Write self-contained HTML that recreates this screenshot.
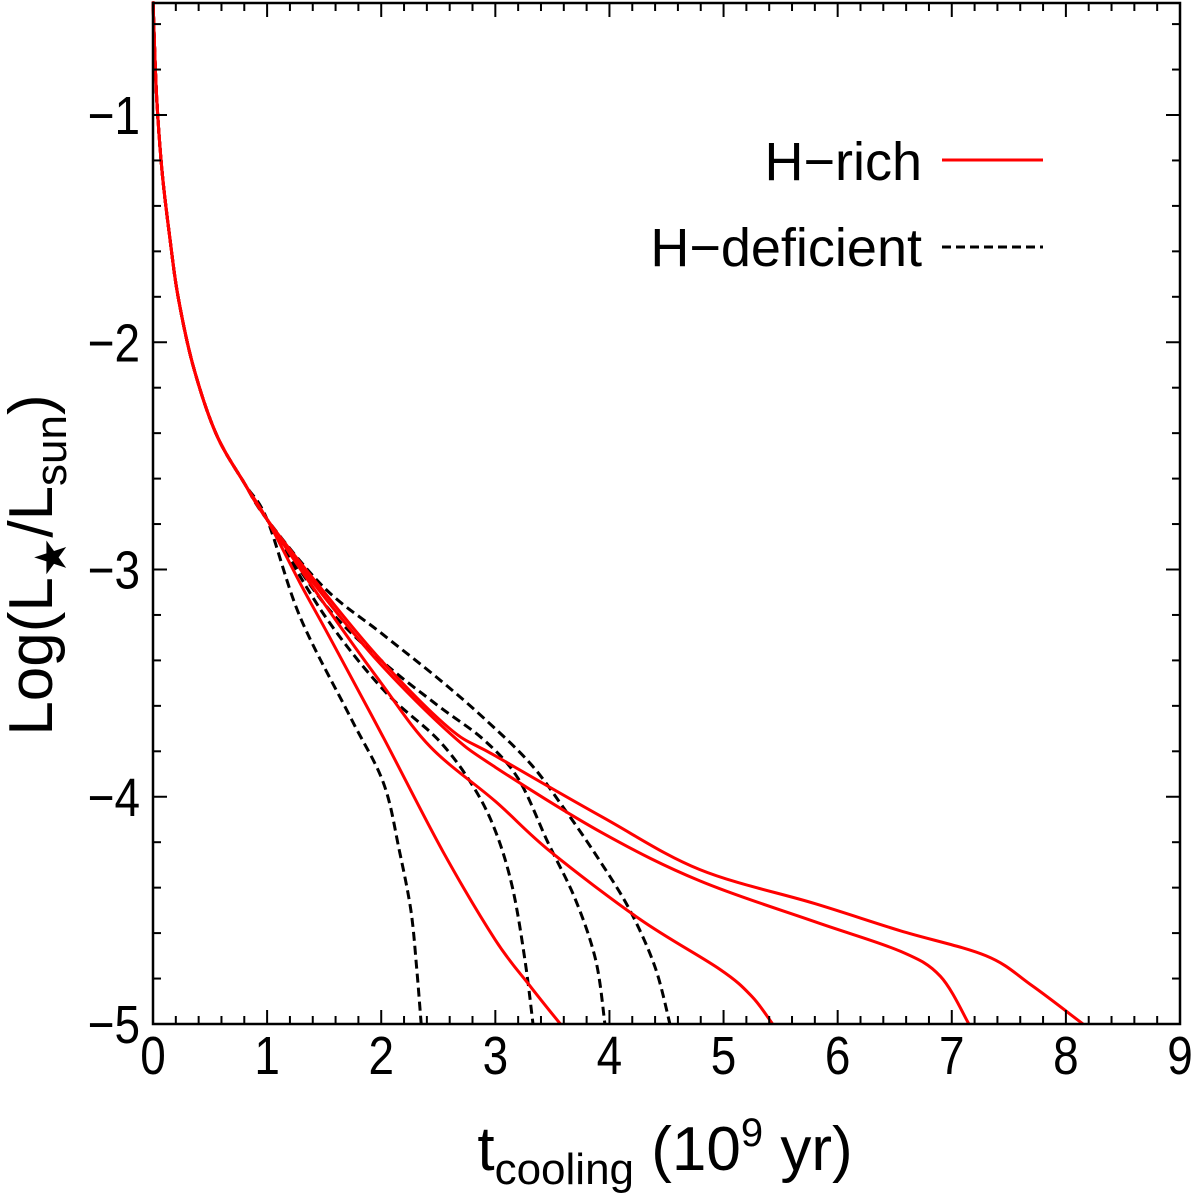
<!DOCTYPE html>
<html><head><meta charset="utf-8"><style>
html,body{margin:0;padding:0;background:#fff;}
svg{display:block;font-family:"Liberation Sans",sans-serif;}
</style></head><body>
<svg id="chart" width="1200" height="1200" viewBox="0 0 1200 1200">
<g id="marks"></g>
<rect x="153" y="3" width="1027" height="1021" fill="none" stroke="#000" stroke-width="2.5"/>
<g id="ticks"></g>
<g>
<text x="922" y="180" font-size="54" text-anchor="end">H−rich</text>
<line x1="942" y1="160" x2="1043" y2="160" stroke="#f00" stroke-width="3"/>
<text x="922" y="266" font-size="54" text-anchor="end">H−deficient</text>
<line x1="942" y1="247" x2="1043" y2="247" stroke="#000" stroke-width="3" stroke-dasharray="9,5"/>
</g>
<text x="665" y="1170" font-size="62" text-anchor="middle">t<tspan font-size="44" dy="14">cooling</tspan><tspan dy="-14"> (10</tspan><tspan font-size="40" dy="-24">9</tspan><tspan dy="24"> yr)</tspan></text>
<text transform="translate(52,565) rotate(-90)" font-size="62" text-anchor="middle">Log(L<tspan font-size="44" dy="14">★</tspan><tspan dy="-14">/L</tspan><tspan font-size="44" dy="14">sun</tspan><tspan dy="-14">)</tspan></text>
</svg>
<script>
const xTicks=[0,1,2,3,4,5,6,7,8,9];
const yTicks=[-1,-2,-3,-4,-5];
const startT=[0,0.03,0.08,0.15,0.22,0.35,0.55,0.8,1.0];
const startL=[-0.5,-0.9,-1.25,-1.55,-1.8,-2.1,-2.4,-2.62,-2.78];
const rich1T=[1.3,1.55,2.02,2.54,3.0,3.3,3.57];
const rich1L=[-3.07,-3.3,-3.74,-4.24,-4.63,-4.83,-5.0];
const rich2T=[1.5,2.0,2.43,3.0,3.48,4.27,4.97,5.25,5.43];
const rich2L=[-3.15,-3.5,-3.78,-4.02,-4.24,-4.54,-4.76,-4.88,-5.0];
const rich3T=[1.5,2.0,2.6,3.0,3.94,4.79,5.8,6.55,6.9,7.15];
const rich3L=[-3.12,-3.42,-3.72,-3.87,-4.16,-4.37,-4.55,-4.68,-4.79,-5.0];
const rich4T=[1.5,2.0,2.6,3.0,3.94,4.79,5.8,6.55,7.3,7.7,8.15];
const rich4L=[-3.1,-3.4,-3.7,-3.82,-4.09,-4.32,-4.47,-4.59,-4.7,-4.83,-5.0];
const def1T=[1.29,1.73,2.02,2.16,2.26,2.31,2.35];
const def1L=[-3.21,-3.65,-3.94,-4.24,-4.5,-4.75,-5.0];
const def2T=[1.5,2.02,2.5,2.8,3.0,3.15,3.26,3.33];
const def2L=[-3.2,-3.53,-3.75,-3.95,-4.15,-4.4,-4.72,-5.0];
const def3T=[1.5,2.0,2.5,2.9,3.2,3.46,3.7,3.88,3.96];
const def3L=[-3.15,-3.4,-3.6,-3.75,-3.92,-4.2,-4.45,-4.72,-5.0];
const def4T=[1.5,2.0,2.5,2.89,3.3,3.6,3.9,4.18,4.4,4.53];
const def4L=[-3.08,-3.28,-3.48,-3.65,-3.85,-4.05,-4.27,-4.5,-4.75,-5.0];
const X=t=>153+t*(1180-153)/9;
const Y=l=>115+(-1-l)*227.25;
const NS='http://www.w3.org/2000/svg';
const marks=document.getElementById('marks');
const ticks=document.getElementById('ticks');
function smoothPath(pts){
  let d='M'+pts[0][0].toFixed(1)+','+pts[0][1].toFixed(1);
  for(let i=0;i<pts.length-1;i++){
    const p0=pts[Math.max(0,i-1)],p1=pts[i],p2=pts[i+1],p3=pts[Math.min(pts.length-1,i+2)];
    const c1=[p1[0]+(p2[0]-p0[0])/6,p1[1]+(p2[1]-p0[1])/6];
    const c2=[p2[0]-(p3[0]-p1[0])/6,p2[1]-(p3[1]-p1[1])/6];
    d+=' C'+c1.map(v=>v.toFixed(1)).join(',')+' '+c2.map(v=>v.toFixed(1)).join(',')+' '+p2[0].toFixed(1)+','+p2[1].toFixed(1);
  }
  return d;
}
function curve(T,L,color,dash,name){
  const tt=startT.concat(T), ll=startL.concat(L);
  const p=document.createElementNS(NS,'path');
  p.setAttribute('d',smoothPath(tt.map((t,i)=>[X(t),Y(ll[i])])));
  p.setAttribute('fill','none');p.setAttribute('stroke',color);p.setAttribute('stroke-width','3');
  p.setAttribute('stroke-linejoin','round');
  if(dash)p.setAttribute('stroke-dasharray','9,5');
  
  
  marks.appendChild(p);
}
curve(def1T,def1L,'#000',true,'h-deficient-curve-1');
curve(def2T,def2L,'#000',true,'h-deficient-curve-2');
curve(def3T,def3L,'#000',true,'h-deficient-curve-3');
curve(def4T,def4L,'#000',true,'h-deficient-curve-4');
curve(rich1T,rich1L,'#f00',false,'h-rich-curve-1');
curve(rich2T,rich2L,'#f00',false,'h-rich-curve-2');
curve(rich3T,rich3L,'#f00',false,'h-rich-curve-3');
curve(rich4T,rich4L,'#f00',false,'h-rich-curve-4');
function line(x1,y1,x2,y2){
  const l=document.createElementNS(NS,'line');
  l.setAttribute('x1',x1);l.setAttribute('y1',y1);l.setAttribute('x2',x2);l.setAttribute('y2',y2);
  l.setAttribute('stroke','#000');l.setAttribute('stroke-width','2');
  
  
  ticks.appendChild(l);
}
for(let i=0;i<=45;i++){
  const t=i*0.2, x=X(t), len=(i%5===0)?14:8;
  line(x,1024,x,1024-len); line(x,3,x,3+len);
}
for(let i=0;i<=22;i++){
  const v=-5+i*0.2; if(v>-0.49)break;
  const y=Y(v), len=(i%5===0)?14:8;
  line(153,y,153+len,y); line(1180,y,1180-len,y);
}
xTicks.forEach(v=>{
  const t=document.createElementNS(NS,'text');
  t.setAttribute('transform','translate('+X(v)+',1074) scale(0.85,1)');
  t.setAttribute('font-size','54');
  t.setAttribute('text-anchor','middle');t.textContent=v;
  
  
  ticks.appendChild(t);
});
yTicks.forEach(v=>{
  const t=document.createElementNS(NS,'text');
  t.setAttribute('transform','translate(140,'+(Y(v)+19)+') scale(0.85,1)');
  t.setAttribute('font-size','54');
  t.setAttribute('text-anchor','end');t.textContent='−'+Math.abs(v);
  
  
  ticks.appendChild(t);
});
</script>
</body></html>
